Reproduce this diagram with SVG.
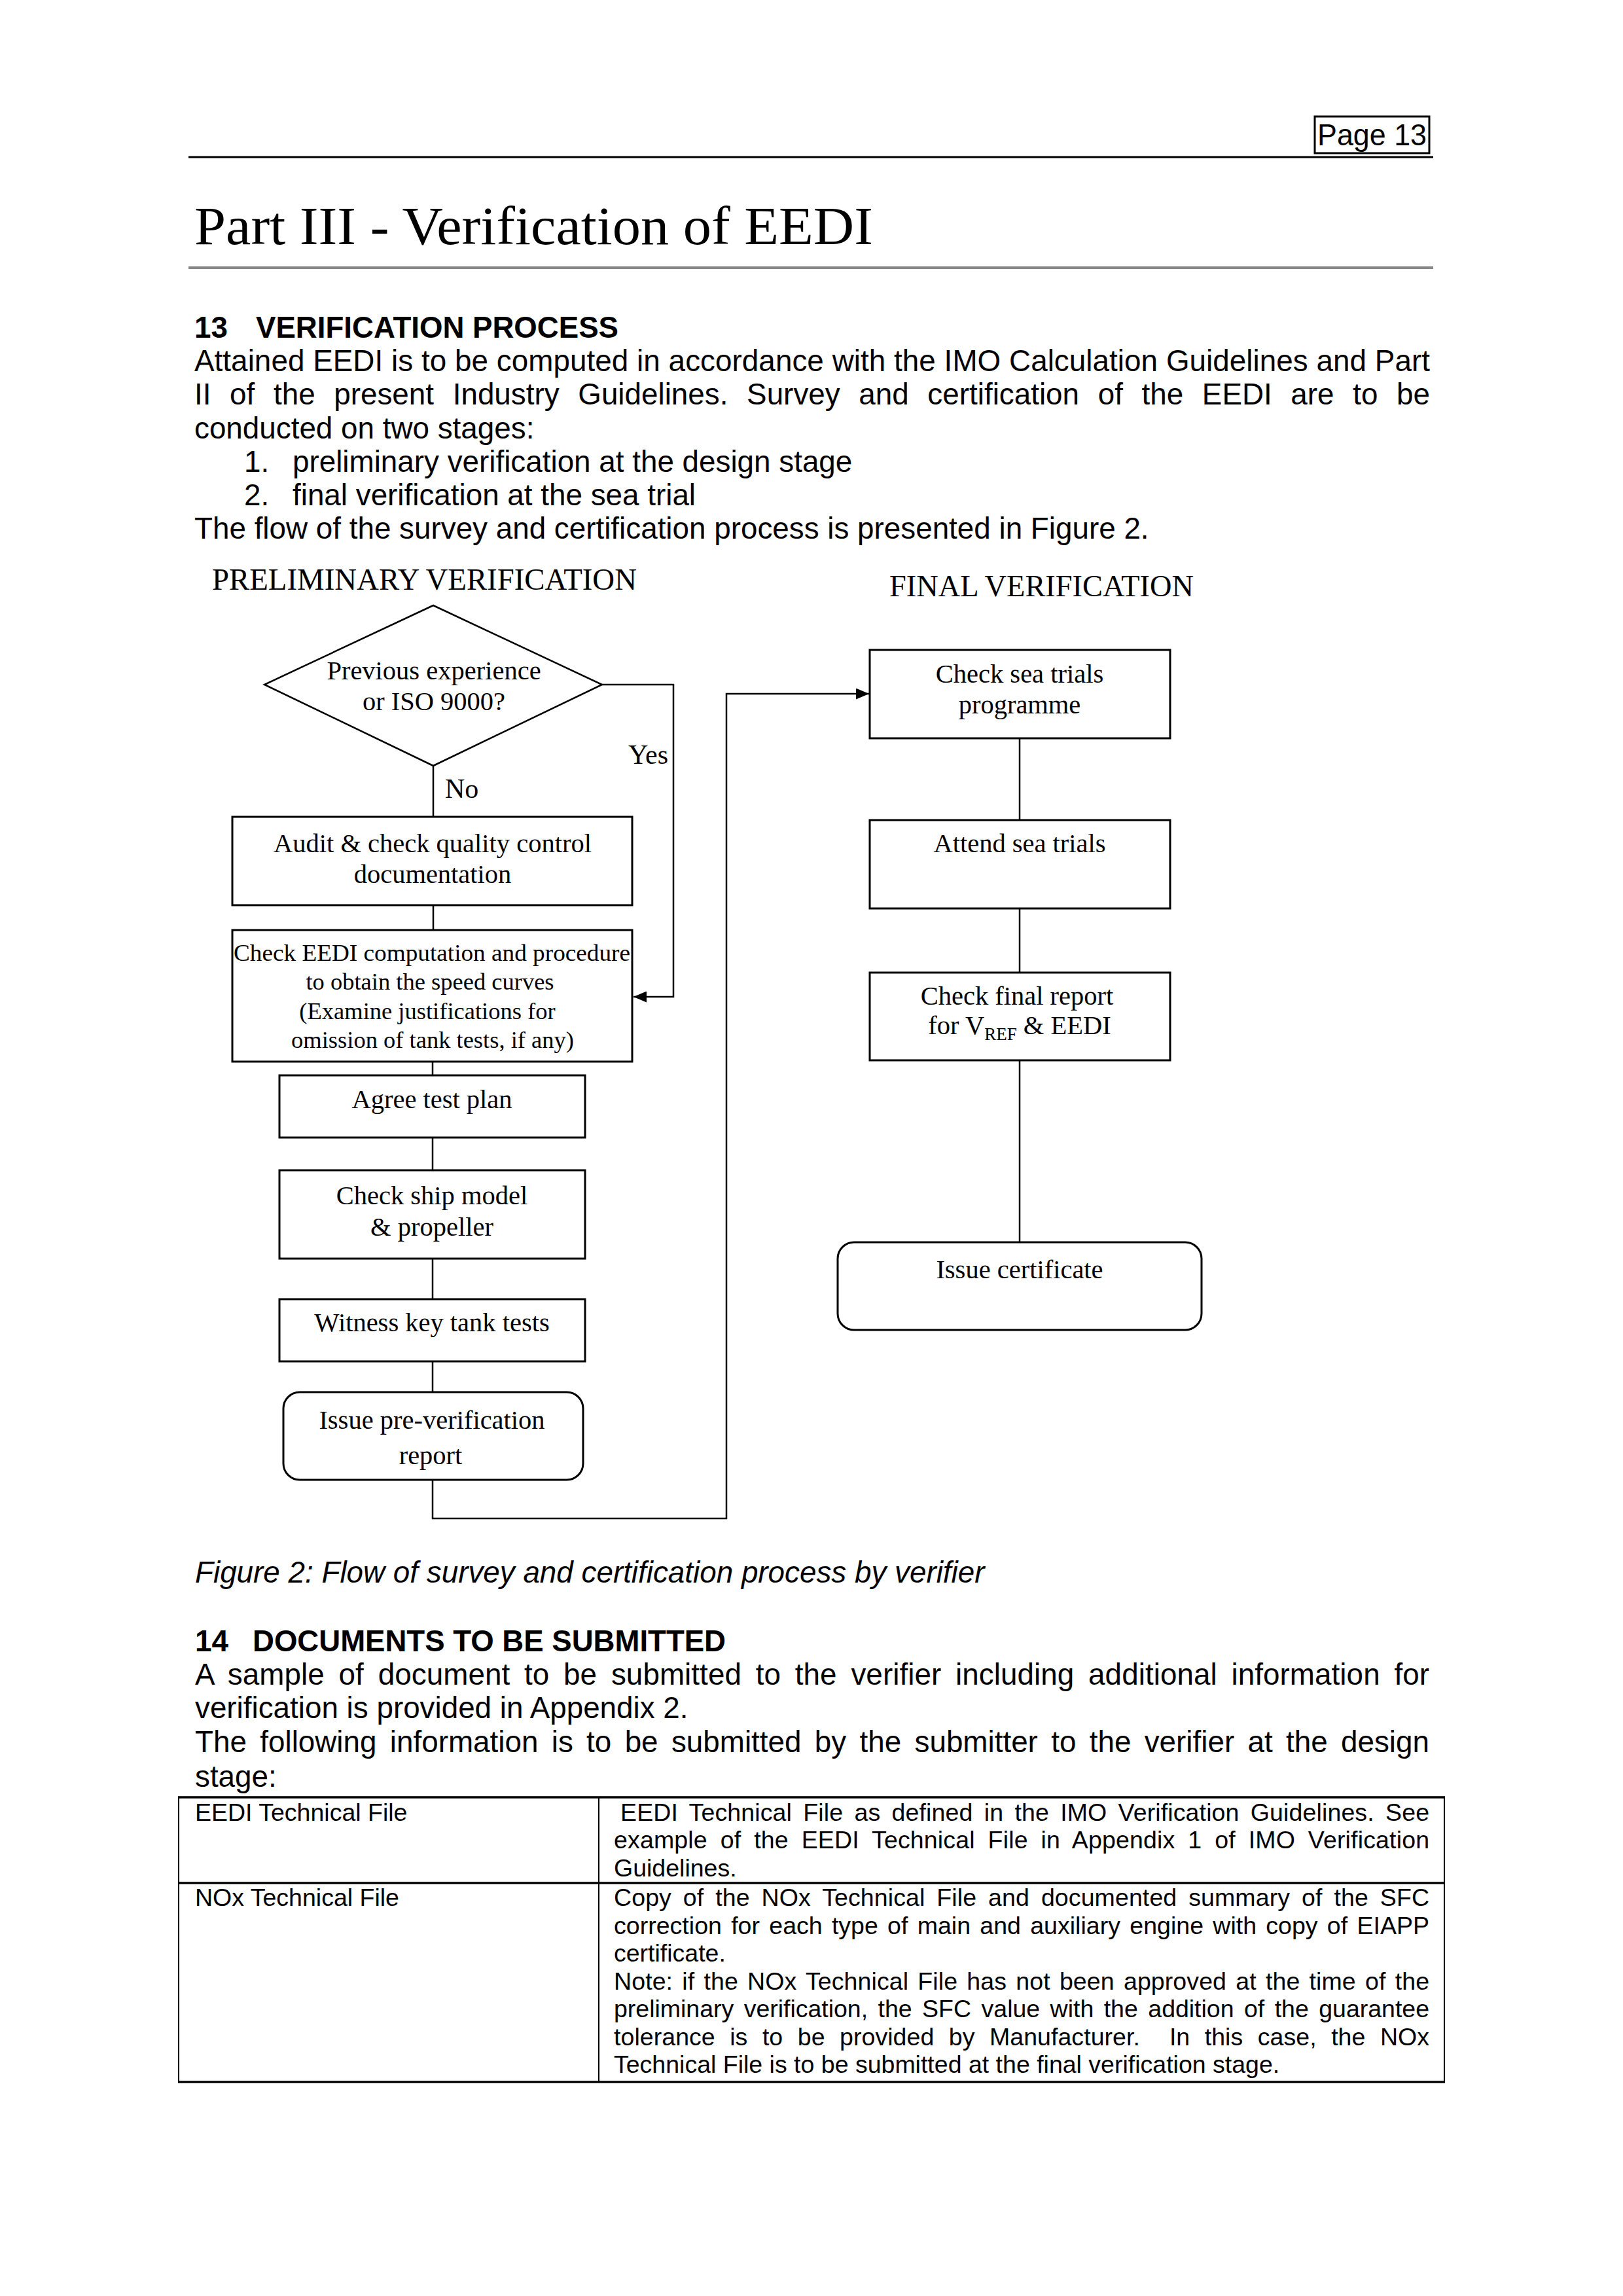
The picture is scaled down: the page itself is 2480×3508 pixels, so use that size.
<svg xmlns="http://www.w3.org/2000/svg" width="2480" height="3508" viewBox="0 0 2480 3508">
<style>
.sans{font-family:"Liberation Sans",Arial,sans-serif;fill:#000}
.body{font-size:45.8px}
.bold{font-weight:bold}
.ital{font-style:italic}
.tbl{font-size:37.5px}
.serif{font-family:"Liberation Serif","Times New Roman",serif;fill:#000}
.node{font-size:40.5px;text-anchor:middle}
.small{font-size:36.5px;text-anchor:middle}
.box{fill:#fff;stroke:#000;stroke-width:3}
.conn{fill:none;stroke:#000;stroke-width:2.5}
.rule{stroke:#000;stroke-width:3}
.grule{stroke:#888;stroke-width:4}
.tline{stroke:#000;stroke-width:3.5}
.vline{stroke:#000;stroke-width:2}
</style>
<defs>
<marker id="arrow" markerUnits="userSpaceOnUse" markerWidth="20" markerHeight="17" refX="20" refY="8.5" orient="auto">
<path d="M0,0 L20,8.5 L0,17 Z" fill="#000"/>
</marker>
</defs>
<rect width="2480" height="3508" fill="#fff"/>

<g id="page-header">
<rect x="2009" y="178" width="175" height="56" fill="none" stroke="#000" stroke-width="3"/>
<text class="sans" x="2013" y="222" font-size="46" textLength="167" lengthAdjust="spacingAndGlyphs">Page 13</text>
<line class="rule" x1="288" y1="240" x2="2190" y2="240"/>
<text class="serif" x="297" y="373" font-size="83" textLength="1037" lengthAdjust="spacingAndGlyphs">Part III - Verification of EEDI</text>
<line class="grule" x1="288" y1="409" x2="2190" y2="409"/>
</g>

<g id="section13">
<text class="sans body bold" x="297" y="516">13</text>
<text class="sans body bold" x="391" y="516" textLength="554" lengthAdjust="spacingAndGlyphs">VERIFICATION PROCESS</text>
<text class="sans body" x="297" y="567" textLength="1888" lengthAdjust="spacing">Attained EEDI is to be computed in accordance with the IMO Calculation Guidelines and Part</text>
<text class="sans body" x="297" y="618" word-spacing="15.9" textLength="1888" lengthAdjust="spacing">II of the present Industry Guidelines. Survey and certification of the EEDI are to be</text>
<text class="sans body" x="297" y="669.5">conducted on two stages:</text>
<text class="sans body" x="373" y="721">1.</text>
<text class="sans body" x="447" y="721">preliminary verification at the design stage</text>
<text class="sans body" x="373" y="772">2.</text>
<text class="sans body" x="447" y="772">final verification at the sea trial</text>
<text class="sans body" x="297" y="823">The flow of the survey and certification process is presented in Figure 2.</text>
</g>

<g id="lane-labels">
<text class="serif" x="324" y="901" font-size="46" textLength="649" lengthAdjust="spacingAndGlyphs">PRELIMINARY VERIFICATION</text>
<text class="serif" x="1359" y="911" font-size="46" textLength="465" lengthAdjust="spacingAndGlyphs">FINAL VERIFICATION</text>
</g>

<g id="connectors">
<line class="conn" x1="662" y1="1170" x2="662" y2="1248"/>
<line class="conn" x1="662" y1="1383" x2="662" y2="1421"/>
<line class="conn" x1="661" y1="1622" x2="661" y2="1643"/>
<line class="conn" x1="661" y1="1738" x2="661" y2="1788"/>
<line class="conn" x1="661" y1="1923" x2="661" y2="1985"/>
<line class="conn" x1="661" y1="2080" x2="661" y2="2127"/>
<path class="conn" d="M920,1046 H1029 V1523 H968" marker-end="url(#arrow)"/>
<path class="conn" d="M661,2261 V2320 H1110 V1060 H1328" marker-end="url(#arrow)"/>
<line class="conn" x1="1558" y1="1128" x2="1558" y2="1253"/>
<line class="conn" x1="1558" y1="1388" x2="1558" y2="1486"/>
<line class="conn" x1="1558" y1="1620" x2="1558" y2="1898"/>
<text class="serif" x="1021" y="1167" font-size="42" text-anchor="end">Yes</text>
<text class="serif" x="680" y="1219" font-size="42">No</text>
</g>

<g id="n-decision">
<polygon points="662,925 920,1046 662,1170 404,1046" fill="#fff" stroke="#000" stroke-width="2.5"/>
<text class="serif node" x="663" y="1038">Previous experience</text>
<text class="serif node" x="663" y="1085">or ISO 9000?</text>
</g>

<g id="n-audit">
<rect class="box" x="355" y="1248" width="611" height="135"/>
<text class="serif node" x="661" y="1302">Audit &amp; check quality control</text>
<text class="serif node" x="661" y="1349">documentation</text>
</g>

<g id="n-checkeedi">
<rect class="box" x="355" y="1421" width="611" height="201"/>
<text class="serif small" x="660" y="1468" textLength="606" lengthAdjust="spacingAndGlyphs">Check EEDI  computation and procedure</text>
<text class="serif small" x="657" y="1512">to obtain the  speed curves</text>
<text class="serif small" x="653" y="1557">(Examine justifications for</text>
<text class="serif small" x="661" y="1601">omission of tank tests, if any)</text>
</g>

<g id="n-agree">
<rect class="box" x="427" y="1643" width="467" height="95"/>
<text class="serif node" x="660" y="1693">Agree test plan</text>
</g>

<g id="n-shipmodel">
<rect class="box" x="427" y="1788" width="467" height="135"/>
<text class="serif node" x="660" y="1840">Check ship model</text>
<text class="serif node" x="660" y="1888">&amp; propeller</text>
</g>

<g id="n-witness">
<rect class="box" x="427" y="1985" width="467" height="95"/>
<text class="serif node" x="660" y="2034">Witness key tank tests</text>
</g>

<g id="n-preverif">
<rect class="box" x="433" y="2127" width="458" height="134" rx="25" ry="25"/>
<text class="serif node" x="660" y="2183">Issue pre-verification</text>
<text class="serif node" x="658" y="2237">report</text>
</g>

<g id="n-seatrialsprog">
<rect class="box" x="1329" y="993" width="459" height="135"/>
<text class="serif node" x="1558" y="1043">Check sea trials</text>
<text class="serif node" x="1558" y="1090">programme</text>
</g>

<g id="n-attend">
<rect class="box" x="1329" y="1253" width="459" height="135"/>
<text class="serif node" x="1558" y="1302">Attend sea trials</text>
</g>

<g id="n-finalreport">
<rect class="box" x="1329" y="1486" width="459" height="134"/>
<text class="serif node" x="1554" y="1535">Check final report</text>
<text class="serif node" x="1558" y="1580">for V<tspan font-size="27" dy="9">REF</tspan><tspan dy="-9"> &amp; EEDI</tspan></text>
</g>

<g id="n-certificate">
<rect class="box" x="1280" y="1898" width="556" height="134" rx="25" ry="25"/>
<text class="serif node" x="1558" y="1953">Issue certificate</text>
</g>

<g id="caption">
<text class="sans body ital" x="298" y="2418">Figure 2: Flow of survey and certification process by verifier</text>
</g>

<g id="section14">
<text class="sans body bold" x="298" y="2523">14</text>
<text class="sans body bold" x="386" y="2523" textLength="723" lengthAdjust="spacingAndGlyphs">DOCUMENTS TO BE SUBMITTED</text>
<text class="sans body" x="298" y="2574" word-spacing="9" textLength="1886" lengthAdjust="spacing">A sample of document to be submitted to the verifier including additional information for</text>
<text class="sans body" x="298" y="2625">verification is provided in Appendix 2.</text>
<text class="sans body" x="298" y="2677" word-spacing="7.6" textLength="1886" lengthAdjust="spacing">The following information is to be submitted by the submitter to the verifier at the design</text>
<text class="sans body" x="298" y="2730">stage:</text>
</g>

<g id="table">
<line class="tline" x1="272" y1="2746" x2="2208" y2="2746"/>
<line class="tline" x1="272" y1="2877" x2="2208" y2="2877"/>
<line class="tline" x1="272" y1="3181" x2="2208" y2="3181"/>
<line class="vline" x1="273" y1="2745" x2="273" y2="3182"/>
<line class="vline" x1="915" y1="2745" x2="915" y2="3182"/>
<line class="vline" x1="2207" y1="2745" x2="2207" y2="3182"/>
<text class="sans tbl" x="298" y="2782">EEDI Technical File</text>
<text class="sans tbl" x="948" y="2782" word-spacing="6.7" textLength="1236" lengthAdjust="spacing">EEDI Technical File as defined in the IMO Verification Guidelines. See</text>
<text class="sans tbl" x="938" y="2824" word-spacing="9.3" textLength="1246" lengthAdjust="spacing">example of the EEDI Technical File in Appendix 1 of IMO Verification</text>
<text class="sans tbl" x="938" y="2866.5">Guidelines.</text>
<text class="sans tbl" x="298" y="2912">NOx Technical File</text>
<text class="sans tbl" x="938" y="2912" word-spacing="7.4" textLength="1246" lengthAdjust="spacing">Copy of the NOx Technical File and documented summary of the SFC</text>
<text class="sans tbl" x="938" y="2954.5" word-spacing="3.8" textLength="1246" lengthAdjust="spacing">correction for each type of main and auxiliary engine with copy of EIAPP</text>
<text class="sans tbl" x="938" y="2997">certificate.</text>
<text class="sans tbl" x="938" y="3039.5" word-spacing="3.7" textLength="1246" lengthAdjust="spacing">Note: if the NOx Technical File has not been approved at the time of the</text>
<text class="sans tbl" x="938" y="3082" word-spacing="5.1" textLength="1246" lengthAdjust="spacing">preliminary verification, the SFC value with the addition of the guarantee</text>
<text class="sans tbl" x="938" y="3124.5" word-spacing="12" textLength="1246" lengthAdjust="spacing" xml:space="preserve">tolerance is to be provided by Manufacturer.  In this case, the NOx</text>
<text class="sans tbl" x="938" y="3167">Technical File is to be submitted at the final verification stage.</text>
</g>
</svg>
